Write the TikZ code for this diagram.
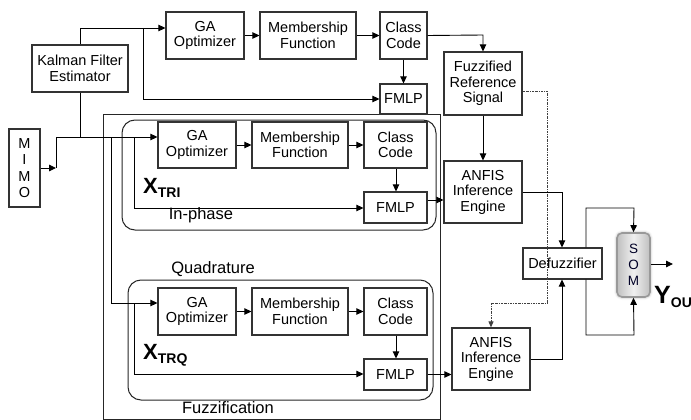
\documentclass[tikz,border=0pt]{standalone}
\usepackage{fontspec}
\setmainfont{Liberation Sans}
\usetikzlibrary{arrows.meta,shadows.blur}
\definecolor{boxc}{HTML}{333333}
\newcommand{\fs}{\fontsize{14.5}{15.5}\selectfont}
\tikzset{
  box/.style={draw=boxc, line width=1.2pt, fill=white, inner sep=0pt, align=center, font=\fs},
  conn/.style={line width=0.9pt, draw=black},
  arr/.style={conn, -{Triangle[length=7pt,width=6.5pt]}},
  dotc/.style={line width=0.9pt, draw=black!75, dash pattern=on 2pt off 1pt on 0.6pt off 1pt},
  grp/.style={draw=black!85, line width=1pt},
  lbl/.style={font=\fontsize{16.5}{17}\selectfont, inner sep=0pt},
}
\begin{document}
\begin{tikzpicture}[x=1pt,y=-1pt]
\useasboundingbox (0,0) rectangle (691,420);
% group frames
\draw[grp] (103,114) rectangle (440,419);
\draw[grp, rounded corners=13pt] (122,120) rectangle (436,230);
\draw[grp, rounded corners=13pt] (128,280) rectangle (433,400);
% nodes top
\node[box, minimum width=96pt, minimum height=47pt] (kf) at (80,68.5) {Kalman Filter\\Estimator};
\node[box, minimum width=78pt, minimum height=47pt] (ga1) at (205,35.5) {GA\\Optimizer};
\node[box, minimum width=96pt, minimum height=47pt] (mf1) at (308,35.5) {Membership\\Function};
\node[box, minimum width=47pt, minimum height=47pt] (cc1) at (403.5,35.5) {Class\\Code};
\node[box, minimum width=47pt, minimum height=30pt] (fm1) at (403.5,99) {FMLP};
\node[box, minimum width=78pt, minimum height=63pt] (frs) at (483,83.5) {Fuzzified\\Reference\\Signal};
\node[box, minimum width=78pt, minimum height=62pt] (an1) at (483,192) {ANFIS\\Inference\\Engine};
\node[box, minimum width=31pt, minimum height=78pt, font=\fontsize{14.5}{16.5}\selectfont] (mimo) at (24.5,168) {M\\I\\M\\O};
% in-phase
\node[box, minimum width=78pt, minimum height=46pt] (ga2) at (197,145) {GA\\Optimizer};
\node[box, minimum width=96pt, minimum height=46pt] (mf2) at (300,145) {Membership\\Function};
\node[box, minimum width=63pt, minimum height=46pt] (cc2) at (395.5,145) {Class\\Code};
\node[box, minimum width=63pt, minimum height=31pt] (fm2) at (395.5,207.5) {FMLP};
% quadrature
\node[box, minimum width=78pt, minimum height=47pt] (ga3) at (197,311.5) {GA\\Optimizer};
\node[box, minimum width=96pt, minimum height=47pt] (mf3) at (300,311.5) {Membership\\Function};
\node[box, minimum width=63pt, minimum height=47pt] (cc3) at (395.5,311.5) {Class\\Code};
\node[box, minimum width=63pt, minimum height=31pt] (fm3) at (395.5,374.5) {FMLP};
\node[box, minimum width=78pt, minimum height=62pt] (an2) at (491,359) {ANFIS\\Inference\\Engine};
% output side
\node[box, minimum width=79pt, minimum height=31pt] (dfz) at (562.5,263.5) {Defuzzifier};
\node[draw=gray!80, line width=1.6pt, rounded corners=5pt, minimum width=33pt, minimum height=64pt,
      inner sep=0pt, align=center, left color=gray!50, right color=gray!50, middle color=gray!12,
      blur shadow={shadow xshift=0pt, shadow yshift=0pt, shadow blur radius=3pt},
      font=\fontsize{13.5}{16}\selectfont, text=black!85!blue] (som) at (633.5,265) {S\\O\\M};
% labels
\node[lbl] (lin) at (201,215) {In-phase};
\node[lbl] (lqu) at (213,269) {Quadrature};
\node[lbl] (lfz) at (228,408) {Fuzzification};
\node[inner sep=0pt, anchor=base west] (xtri) at (143,193) {\fontsize{22}{22}\selectfont\bfseries X\raisebox{-4pt}{\fontsize{14}{14}\selectfont TRI}};
\node[inner sep=0pt, anchor=base west] (xtrq) at (143,359) {\fontsize{22}{22}\selectfont\bfseries X\raisebox{-4pt}{\fontsize{14}{14}\selectfont TRQ}};
\node[inner sep=0pt, anchor=base west] (yout) at (654,303) {\fontsize{25}{25}\selectfont\bfseries Y\raisebox{-4pt}{\fontsize{14}{14}\selectfont OU}};
% coordinates
\coordinate (k1) at (80,28);
\coordinate (k2) at (143,28);
\coordinate (k3) at (143,99);
\coordinate (c1) at (483,35);
\coordinate (m1) at (56,168);
\coordinate (m2) at (56,137);
\coordinate (j1) at (80,137);
\coordinate (b1) at (111,137);
\coordinate (b2) at (111,303);
\coordinate (b3) at (134,137);
\coordinate (b4) at (134,208);
\coordinate (b5) at (134,303);
\coordinate (b6) at (134,374);
\coordinate (a1) at (562,192);
\coordinate (a2) at (562,359);
\coordinate (d1) at (586,208);
\coordinate (d2) at (634,208);
\coordinate (d3) at (586,335);
\coordinate (d4) at (634,335);
\coordinate (o1) at (673,264);
\coordinate (q1) at (547,91);
\coordinate (q2) at (547,303);
\coordinate (q3) at (491,303);
% connectors top
\draw[arr] (kf.north) -- (k1) -- (ga1.west |- k1);
\draw[arr] (k2) -- (k3) -- (fm1.west |- k3);
\draw[arr] (ga1) -- (mf1);
\draw[arr] (mf1) -- (cc1);
\draw[arr] (cc1.east) -- (c1) -- (frs.north);
\draw[arr] (cc1) -- (fm1);
\draw[arr] (frs) -- (an1);
\draw[dotc] (frs.east |- q1) -- (q1) -- (q2) -- (q3);
\draw[dotc, -{Triangle[length=6pt,width=5pt]}] (q3) -- (an2.north |- q3) -- (an2.north);
% MIMO feed
\draw[arr] (mimo.east |- m1) -- (m1);
\draw[arr] (m1) -- (m2) -- (ga2.west |- m2);
\draw[conn] (kf.south) -- (j1);
\draw[arr] (b1) -- (b2) -- (ga3.west |- b2);
\draw[arr] (b3) -- (b4) -- (fm2.west |- b4);
\draw[arr] (b5) -- (b6) -- (fm3.west |- b6);
% in-phase
\draw[arr] (ga2) -- (mf2);
\draw[arr] (mf2) -- (cc2);
\draw[arr] (cc2.south -| 396,0) -- (fm2.north -| 396,0);
\draw[arr] (fm2.east |- 0,200) -- (an1.west |- 0,200);
% quadrature
\draw[arr] (ga3) -- (mf3);
\draw[arr] (mf3) -- (cc3);
\draw[arr] (cc3.south -| 396,0) -- (fm3.north -| 396,0);
\draw[arr] (fm3) -- (an2.west |- fm3);
% output
\draw[arr] (an1.east |- a1) -- (a1) -- (dfz.north -| a1);
\draw[arr] (an2.east |- a2) -- (a2) -- (dfz.south -| a2);
\draw[arr] (dfz.north -| d1) -- (d1) -- (d2) -- (som.north);
\draw[arr] (dfz.south -| d3) -- (d3) -- (d4) -- (som.south);
\draw[arr] (som.east |- o1) -- (o1);
\end{tikzpicture}
\end{document}
